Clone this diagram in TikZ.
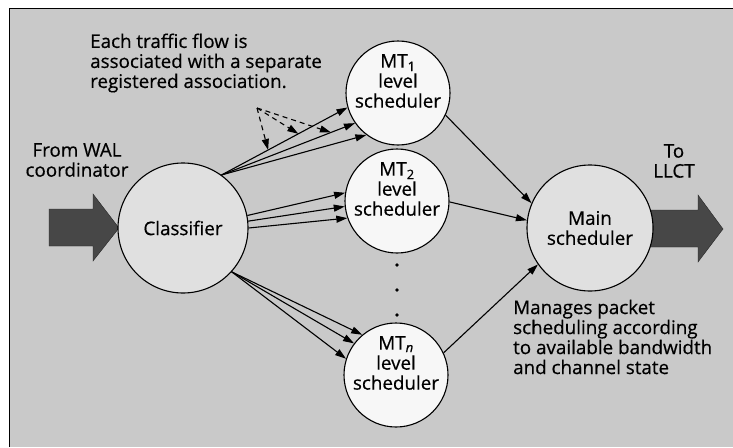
\documentclass[tikz,border=0pt]{standalone}
\usepackage{fontspec}
\setmainfont{Open Sans}[FakeBold=0.5]
\usetikzlibrary{arrows.meta}
\begin{document}
\begin{tikzpicture}[x=1pt,y=-1pt,
  font=\fontsize{18.8}{20}\selectfont,
  conn/.style={line width=1.1pt,-{Triangle[length=11pt,width=7pt]}},
  dconn/.style={conn,dash pattern=on 5pt off 4pt},
  mt/.style={circle,draw,line width=1.1pt,fill=black!3,minimum size=104pt,inner sep=0pt},
  big/.style={circle,draw,line width=1.1pt,fill=black!12,inner sep=0pt,align=center},
  fat/.style={fill=black!72,draw=black!85},
  lbl/.style={align=center,inner sep=0pt}]
\useasboundingbox (0,0) rectangle (733,447);
\fill[black!21] (9,8) rectangle (733,447);
\draw[line width=0.8pt] (9,447) -- (9,8) -- (733,8);

% fat arrows
\filldraw[fat] (49,209) -- (93,209) -- (93,194) -- (119,228) -- (93,261) -- (93,246) -- (49,246) -- cycle;
\filldraw[fat] (640,210) -- (698,210) -- (698,195) -- (723,229) -- (698,262) -- (698,247) -- (640,247) -- cycle;

% nodes
\node[big,minimum size=130pt] (cl) at (183,228) {Classifier};
\node[big,minimum size=126pt] (main) at (590,228) {Main\\scheduler};
\node[mt] (mt1) at (398,93) {};
\node[mt] (mt2) at (397,201) {};
\node[mt] (mtn) at (396,375) {};
\node[lbl] (t1) at ([yshift=12pt]mt1.center) {MT\textsubscript{1}\\level\\scheduler};
\node[lbl] (t2) at ([yshift=12pt]mt2.center) {MT\textsubscript{2}\\level\\scheduler};
\node[lbl] (tn) at ([yshift=12pt]mtn.center) {MT\textsubscript{\itshape n}\\level\\scheduler};

\fill (397,265) circle (1.8pt);
\fill (397,290) circle (1.8pt);
\fill (397,315) circle (1.8pt);

% connectors classifier -> MT1
\draw[conn] (cl.54) -- (mt1.196) coordinate[pos=0.37] (d1) coordinate[pos=0.61] (d2);
\draw[conn] (cl.54) -- (mt1.215) coordinate[pos=0.82] (d3);
\draw[conn] (cl.54) -- (mt1.233);
\coordinate (ds) at (257,108);
\draw[dconn] (ds) -- (d1);
\draw[dconn] (ds) -- (d2);
\draw[dconn] (ds) -- (d3);

% classifier -> MT2
\draw[conn] (cl.11.5) -- (mt2.171.6);
\draw[conn] (cl.6.2) -- (mt2.186.7);
\draw[conn] (cl.0.9) -- (mt2.199.8);

% classifier -> MTn
\draw[conn] (cl.318) -- (mtn.130);
\draw[conn] (cl.318) -- (mtn.143);
\draw[conn] (cl.318) -- (mtn.162);

% MT -> main
\draw[conn] (mt1.335) -- (main.157);
\draw[conn] (mt2.359) -- (main.173);
\draw[conn] (mtn.25) -- (main.215);

% texts
\node[align=left,anchor=west,inner sep=0pt] (note1) at (90,63) {Each traffic flow is\\associated with a separate\\registered association.};
\node[align=left,anchor=west,inner sep=0pt] (note2) at (513,337) {Manages packet\\scheduling according\\to available bandwidth\\and channel state};
\node[lbl] (from) at (77,160) {From WAL\\coordinator};
\node[lbl] (to) at (674,161) {To\\LLCT};
\end{tikzpicture}
\end{document}
